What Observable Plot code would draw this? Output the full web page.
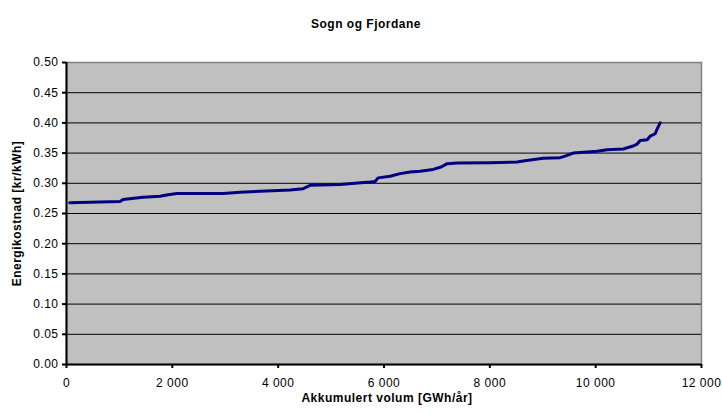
<!DOCTYPE html>
<html><head><meta charset="utf-8">
<script src="https://cdn.jsdelivr.net/npm/d3@7"></script>
<script src="https://cdn.jsdelivr.net/npm/@observablehq/plot@0.6"></script>
<style>
body{margin:0;background:#fff;}
svg{display:block}
svg text{letter-spacing:0.5px}
</style>
</head><body><div id="chart"></div>
<script>
const title = "Sogn og Fjordane";
const xLabel = "Akkumulert volum [GWh/år]";
const yLabel = "Energikostnad [kr/kWh]";

const volum = [60, 1011, 1068, 1446, 1767, 1919, 2089, 2958, 3280, 3658, 4225, 4470, 4603, 5170, 5737, 5832, 5888, 6115, 6304, 6493, 6682, 6928, 7080, 7193, 7382, 8006, 8516, 8629, 9008, 9329, 9423, 9575, 10028, 10217, 10520, 10709, 10784, 10841, 10973, 11030, 11125, 11163, 11219];
const kostnad = [0.268, 0.270, 0.273, 0.277, 0.2785, 0.281, 0.283, 0.283, 0.285, 0.287, 0.289, 0.291, 0.2967, 0.298, 0.302, 0.303, 0.309, 0.3116, 0.316, 0.3187, 0.320, 0.323, 0.327, 0.3325, 0.3336, 0.3342, 0.3352, 0.3369, 0.3413, 0.3425, 0.345, 0.350, 0.353, 0.3557, 0.3567, 0.3617, 0.365, 0.371, 0.372, 0.378, 0.382, 0.390, 0.400];

const xTicks = [0, 2000, 4000, 6000, 8000, 10000, 12000];
const xTickLabels = ["0", "2 000", "4 000", "6 000", "8 000", "10 000", "12 000"];
const yTicks = [0, 0.05, 0.10, 0.15, 0.20, 0.25, 0.30, 0.35, 0.40, 0.45, 0.50];
const yTickLabels = ["0.00", "0.05", "0.10", "0.15", "0.20", "0.25", "0.30", "0.35", "0.40", "0.45", "0.50"];
const yGrid = yTicks.slice(1, -1);

const data = volum.map((v, i) => ({volum: v, kostnad: kostnad[i]}));

const font = "'Liberation Sans', Arial, sans-serif";

const chart = Plot.plot({
  width: 722,
  height: 414,
  marginLeft: 66,
  marginRight: 21,
  marginTop: 62,
  marginBottom: 50,
  style: {fontFamily: font, fontSize: "12px", color: "#000", background: "#fff"},
  x: {domain: [0, 12000]},
  y: {domain: [0, 0.5]},
  marks: [
    Plot.frame({fill: "#C0C0C0", stroke: "#808080", strokeWidth: 1.5}),
    Plot.ruleY(yGrid, {stroke: "#000", strokeWidth: 1}),
    Plot.line(data, {x: "volum", y: "kostnad", stroke: "#000080", strokeWidth: 3, strokeLinejoin: "round", strokeLinecap: "round"}),
    Plot.ruleX([0], {stroke: "#000", strokeWidth: 2}),
    Plot.ruleY([0], {stroke: "#000", strokeWidth: 2}),
    Plot.axisY({ticks: yTicks, tickFormat: d => yTickLabels[yTicks.indexOf(d)], tickSize: 4, tickPadding: 4, strokeWidth: 2, fontSize: 12, label: null}),
    Plot.axisX({ticks: xTicks, tickFormat: d => xTickLabels[xTicks.indexOf(d)], tickSize: 4, tickPadding: 10, strokeWidth: 2, fontSize: 12, label: null}),
    Plot.text([title], {frameAnchor: "top", dx: -18, dy: -38, lineAnchor: "middle", textAnchor: "middle", fontWeight: "bold", fontSize: 12}),
    Plot.text([xLabel], {frameAnchor: "bottom", dx: 3, dy: 33.5, lineAnchor: "middle", textAnchor: "middle", fontWeight: "bold", fontSize: 12}),
    Plot.text([yLabel], {frameAnchor: "left", dx: -49, rotate: -90, lineAnchor: "middle", textAnchor: "middle", fontWeight: "bold", fontSize: 12})
  ]
});
document.getElementById("chart").appendChild(chart);
</script>
</body></html>
